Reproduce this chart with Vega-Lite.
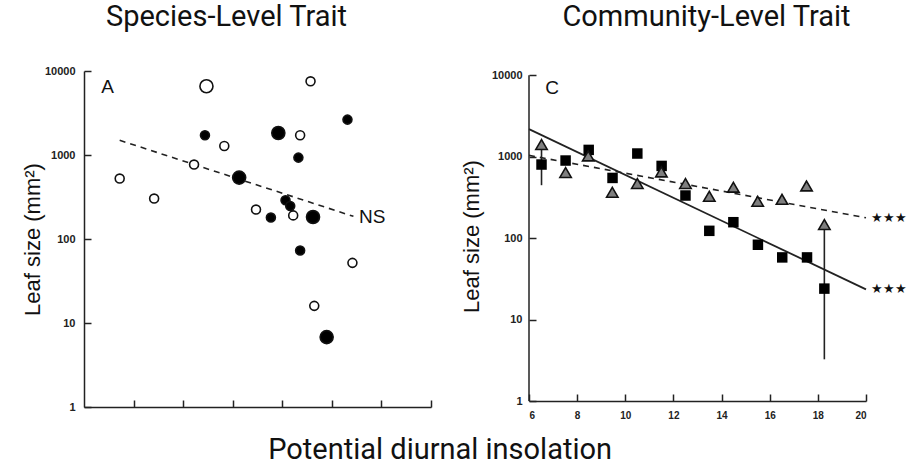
{
  "$schema": "https://vega.github.io/schema/vega-lite/v6.json",
  "background": "white",
  "padding": {"left": 21, "top": 3, "right": 0, "bottom": 0},
  "title": {"text": "Potential diurnal insolation", "orient": "bottom", "anchor": "middle", "font": "Roboto", "fontSize": 29, "fontWeight": "normal", "color": "#111", "offset": 16, "dx": -24},
  "datasets": {
    "species": [
      {"x": 7.44, "leaf": 524, "type": "open", "size": "small"},
      {"x": 8.83, "leaf": 303, "type": "open", "size": "small"},
      {"x": 10.94, "leaf": 6580, "type": "open", "size": "large"},
      {"x": 11.66, "leaf": 1280, "type": "open", "size": "small"},
      {"x": 10.44, "leaf": 769, "type": "open", "size": "small"},
      {"x": 12.94, "leaf": 224, "type": "open", "size": "small"},
      {"x": 15.14, "leaf": 7540, "type": "open", "size": "small"},
      {"x": 14.72, "leaf": 1717, "type": "open", "size": "small"},
      {"x": 14.44, "leaf": 191, "type": "open", "size": "small"},
      {"x": 16.83, "leaf": 52, "type": "open", "size": "small"},
      {"x": 15.29, "leaf": 16, "type": "open", "size": "small"},
      {"x": 10.88, "leaf": 1717, "type": "filled", "size": "small"},
      {"x": 13.84, "leaf": 1828, "type": "filled", "size": "large"},
      {"x": 14.65, "leaf": 931, "type": "filled", "size": "small"},
      {"x": 16.63, "leaf": 2638, "type": "filled", "size": "small"},
      {"x": 12.26, "leaf": 538, "type": "filled", "size": "large"},
      {"x": 14.13, "leaf": 289, "type": "filled", "size": "small"},
      {"x": 14.32, "leaf": 247, "type": "filled", "size": "small"},
      {"x": 13.54, "leaf": 180, "type": "filled", "size": "small"},
      {"x": 15.24, "leaf": 183, "type": "filled", "size": "large"},
      {"x": 14.72, "leaf": 73, "type": "filled", "size": "small"},
      {"x": 15.79, "leaf": 6.8, "type": "filled", "size": "large"}
    ],
    "speciesFit": [
      {"x": 7.44, "leaf": 1496},
      {"x": 16.87, "leaf": 186}
    ],
    "speciesText": [
      {"x": 6.7, "leaf": 6500, "label": "A", "size": 19},
      {"x": 17.1, "leaf": 183, "label": "NS", "size": 19}
    ],
    "squares": [
      {"x": 6.52, "leaf": 802},
      {"x": 7.52, "leaf": 898},
      {"x": 8.48, "leaf": 1213},
      {"x": 9.47, "leaf": 549},
      {"x": 10.5, "leaf": 1095},
      {"x": 11.51, "leaf": 771},
      {"x": 12.5, "leaf": 334},
      {"x": 13.49, "leaf": 123},
      {"x": 14.49, "leaf": 157},
      {"x": 15.51, "leaf": 83},
      {"x": 16.52, "leaf": 58},
      {"x": 17.55, "leaf": 58},
      {"x": 18.27, "leaf": 24}
    ],
    "triangles": [
      {"x": 6.52, "leaf": 1413},
      {"x": 7.52, "leaf": 640},
      {"x": 8.46, "leaf": 1023},
      {"x": 9.46, "leaf": 366},
      {"x": 10.5, "leaf": 469},
      {"x": 11.5, "leaf": 651},
      {"x": 12.5, "leaf": 469},
      {"x": 13.49, "leaf": 327},
      {"x": 14.49, "leaf": 422},
      {"x": 15.5, "leaf": 284},
      {"x": 16.51, "leaf": 300},
      {"x": 17.53, "leaf": 438},
      {"x": 18.27, "leaf": 147}
    ],
    "errors": [
      {"x": 6.52, "low": 447, "high": 1413},
      {"x": 18.27, "low": 3.25, "high": 147}
    ],
    "yAxisLine": [
      {"x": 6, "low": 1, "high": 10000}
    ],
    "solidFit": [
      {"x": 6, "leaf": 2180},
      {"x": 20, "leaf": 23.5}
    ],
    "dashedFit": [
      {"x": 6, "leaf": 1040},
      {"x": 20, "leaf": 178}
    ],
    "commText": [
      {"x": 6.68, "leaf": 6890, "label": "C", "size": 19, "font": "Liberation Sans"},
      {"x": 20.2, "leaf": 178, "label": "★★★", "size": 13, "font": "DejaVu Sans"},
      {"x": 20.2, "leaf": 23.5, "label": "★★★", "size": 13, "font": "DejaVu Sans"}
    ]
  },
  "spacing": 28,
  "hconcat": [
    {
      "width": 347,
      "height": 336,
      "title": {"text": "Species-Level Trait", "anchor": "middle", "frame": "group", "dx": -31, "offset": 33},
      "encoding": {
        "x": {"field": "x", "type": "quantitative", "scale": {"domain": [6, 20], "nice": false, "zero": false},
              "axis": {"values": [8, 10, 12, 14, 16, 18, 20], "labels": false, "title": null}},
        "y": {"field": "leaf", "type": "quantitative", "scale": {"type": "log", "domain": [1, 10000], "nice": false},
              "axis": {"values": [1, 10, 100, 1000, 10000], "format": "d", "title": "Leaf size (mm²)", "labelPadding": 16, "titlePadding": 0}}
      },
      "layer": [
        {"data": {"name": "speciesFit"}, "mark": {"type": "line", "color": "#222", "strokeWidth": 1.6, "strokeDash": [6, 5]}},
        {"data": {"name": "species"}, "mark": {"type": "point", "shape": "circle", "filled": true, "opacity": 1, "strokeWidth": 1.6, "stroke": "#111"},
         "encoding": {
           "fill": {"field": "type", "type": "nominal", "scale": {"domain": ["open", "filled"], "range": ["white", "#000"]}, "legend": null},
           "size": {"field": "size", "type": "ordinal", "scale": {"domain": ["small", "large"], "range": [80, 170]}, "legend": null}
         }},
        {"data": {"name": "speciesText"}, "mark": {"type": "text", "align": "left", "baseline": "middle", "font": "Liberation Sans", "color": "#111"},
         "encoding": {"text": {"field": "label"}, "size": {"field": "size", "type": "quantitative", "scale": null}}}
      ]
    },
    {
      "width": 337,
      "height": 330,
      "title": {"text": "Community-Level Trait", "anchor": "middle", "frame": "group", "dx": 9, "offset": 37},
      "encoding": {
        "x": {"field": "x", "type": "quantitative", "scale": {"domain": [6, 20], "nice": false, "zero": false},
              "axis": {"values": [6, 8, 10, 12, 14, 16, 18, 20], "title": null, "labelPadding": 16, "labelFontSize": 10}},
        "y": {"field": "leaf", "type": "quantitative", "scale": {"type": "log", "domain": [1, 11294], "nice": false},
              "axis": {"values": [1, 10, 100, 1000, 10000], "format": "d", "title": "Leaf size (mm²)", "labelPadding": 14, "titlePadding": 8, "domain": false}}
      },
      "layer": [
        {"data": {"name": "yAxisLine"}, "mark": {"type": "rule", "color": "#222", "strokeWidth": 1.5},
         "encoding": {"y": {"field": "low", "type": "quantitative"}, "y2": {"field": "high"}}},
        {"data": {"name": "errors"}, "mark": {"type": "rule", "color": "#222", "strokeWidth": 1.6},
         "encoding": {"y": {"field": "low", "type": "quantitative"}, "y2": {"field": "high"}}},
        {"data": {"name": "solidFit"}, "mark": {"type": "line", "color": "#222", "strokeWidth": 1.8}},
        {"data": {"name": "dashedFit"}, "mark": {"type": "line", "color": "#222", "strokeWidth": 1.6, "strokeDash": [6, 5]}},
        {"data": {"name": "squares"}, "mark": {"type": "point", "shape": "square", "filled": true, "opacity": 1, "color": "#000", "size": 110}},
        {"data": {"name": "triangles"}, "mark": {"type": "point", "shape": "triangle-up", "filled": true, "opacity": 1, "fill": "#7f7f7f", "stroke": "#111", "strokeWidth": 1.6, "size": 130}},
        {"data": {"name": "commText"}, "mark": {"type": "text", "align": "left", "baseline": "middle", "color": "#111"},
         "encoding": {"text": {"field": "label"}, "size": {"field": "size", "type": "quantitative", "scale": null}, "font": {"field": "font"}}}
      ]
    }
  ],
  "config": {
    "view": {"stroke": null},
    "axis": {
      "grid": false,
      "domainColor": "#222", "domainWidth": 1.5,
      "tickColor": "#222", "tickWidth": 1.5, "tickSize": -7,
      "labelFont": "Liberation Sans", "labelFontSize": 11, "labelFontWeight": "bold", "labelColor": "#222",
      "titleFont": "Liberation Sans", "titleFontSize": 22, "titleFontWeight": "normal", "titleColor": "#111"
    },
    "title": {"font": "Roboto", "fontSize": 29, "fontWeight": "normal", "color": "#111"}
  }
}
